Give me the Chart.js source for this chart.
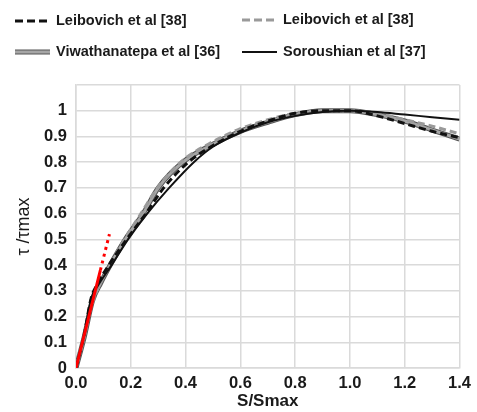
<!DOCTYPE html>
<html>
<head>
<meta charset="utf-8">
<script src="https://cdn.jsdelivr.net/npm/chart.js@4.4.1/dist/chart.umd.min.js"></script>
<style>
  html, body { margin: 0; padding: 0; background: #fff; }
  #wrap { width: 477px; height: 412px; }
</style>
</head>
<body>
<div id="wrap"><canvas id="stressSlip"></canvas></div>
<script>
// normalised slip (S/Smax) and bond stress (tau/tau_max) for each model
const leibovichBlackX = [0, 0.03, 0.055, 0.08, 0.12, 0.185, 0.255, 0.32, 0.41, 0.5, 0.6, 0.7, 0.8, 0.9, 1.0, 1.1, 1.2, 1.3, 1.4];
const leibovichBlackY = [0, 0.13, 0.27, 0.33, 0.40, 0.50, 0.60, 0.70, 0.80, 0.865, 0.92, 0.96, 0.99, 1.0, 1.0, 0.98, 0.95, 0.92, 0.895];

const leibovichGrayX = [0, 0.02, 0.05, 0.08, 0.123, 0.177, 0.237, 0.297, 0.382, 0.5, 0.6, 0.7, 0.8, 0.9, 1.0, 1.1, 1.2, 1.3, 1.4];
const leibovichGrayY = [0, 0.09, 0.22, 0.31, 0.40, 0.50, 0.60, 0.70, 0.80, 0.88, 0.93, 0.965, 0.99, 1.0, 1.0, 0.99, 0.965, 0.94, 0.91];

const viwathanatepaX = [0, 0.03, 0.06, 0.09, 0.125, 0.18, 0.245, 0.30, 0.39, 0.5, 0.6, 0.7, 0.8, 0.9, 1.0, 1.1, 1.2, 1.3, 1.4];
const viwathanatepaY = [0, 0.12, 0.26, 0.33, 0.40, 0.50, 0.60, 0.70, 0.80, 0.87, 0.92, 0.955, 0.985, 1.0, 1.0, 0.985, 0.96, 0.925, 0.89];

const soroushianX = [0, 0.03, 0.055, 0.08, 0.13, 0.19, 0.26, 0.34, 0.43, 0.5, 0.6, 0.7, 0.8, 0.9, 1.0, 1.1, 1.2, 1.3, 1.4];
const soroushianY = [0, 0.13, 0.27, 0.32, 0.40, 0.50, 0.60, 0.70, 0.80, 0.86, 0.915, 0.955, 0.98, 0.995, 1.0, 0.995, 0.985, 0.975, 0.965];

// initial stiffness line: solid part, then dotted extension
const stiffnessX = [0, 0.089];
const stiffnessY = [0, 0.38];
const stiffnessExtX = [0.089, 0.122];
const stiffnessExtY = [0.38, 0.52];

const xTicks = [0, 0.2, 0.4, 0.6, 0.8, 1.0, 1.2, 1.4];
const yMax = 1.1;

const legendNames = ['Leibovich et al [38]', 'Leibovich et al [38]', 'Viwathanatepa et al [36]', 'Soroushian et al [37]'];

function toPoints(xs, ys) {
    return xs.map((x, i) => ({ x: x, y: ys[i] }));
}

const FONT = '"Liberation Sans", Arial, sans-serif';

const lineDefaults = {
    showLine: true,
    pointRadius: 0,
    fill: false,
    cubicInterpolationMode: 'monotone'
};

const datasets = [
    Object.assign({}, lineDefaults, {
        label: 'stiffness',
        data: toPoints(stiffnessX, stiffnessY),
        borderColor: '#ff0000', borderWidth: 3, order: 0
    }),
    Object.assign({}, lineDefaults, {
        label: 'stiffness ext',
        data: toPoints(stiffnessExtX, stiffnessExtY),
        borderColor: '#ff0000', borderWidth: 3, borderDash: [3, 4], order: 0
    }),
    Object.assign({}, lineDefaults, {
        label: legendNames[3],
        data: toPoints(soroushianX, soroushianY),
        borderColor: '#111', borderWidth: 2, order: 1
    }),
    Object.assign({}, lineDefaults, {
        label: legendNames[0],
        data: toPoints(leibovichBlackX, leibovichBlackY),
        borderColor: '#111', borderWidth: 3, borderDash: [7, 4], order: 2
    }),
    Object.assign({}, lineDefaults, {
        label: legendNames[1],
        data: toPoints(leibovichGrayX, leibovichGrayY),
        borderColor: '#9a9a9a', borderWidth: 3, borderDash: [7, 4], order: 3
    }),
    Object.assign({}, lineDefaults, {
        label: legendNames[2],
        data: toPoints(viwathanatepaX, viwathanatepaY),
        borderColor: '#a6a6a6', borderWidth: 3, order: 4
    }),
    // dark edge under the grey Viwathanatepa line
    Object.assign({}, lineDefaults, {
        label: 'edge',
        data: toPoints(viwathanatepaX, viwathanatepaY),
        borderColor: '#555', borderWidth: 5, order: 5
    })
];

// two-column legend drawn above the plot
const legendItems = [
    { text: legendNames[0], x: 15, y: 21, color: '#111', width: 3, dash: [8, 4] },
    { text: legendNames[1], x: 242, y: 20, color: '#9a9a9a', width: 3, dash: [8, 4] },
    { text: legendNames[2], x: 15, y: 52, color: '#a6a6a6', width: 3, dash: [], edge: '#555' },
    { text: legendNames[3], x: 242, y: 52, color: '#111', width: 2, dash: [] }
];

const legendPlugin = {
    id: 'gridLegend',
    afterDraw(chart) {
        const ctx = chart.ctx;
        ctx.save();
        legendItems.forEach(item => {
            if (item.edge) {
                ctx.beginPath();
                ctx.setLineDash([]);
                ctx.strokeStyle = item.edge;
                ctx.lineWidth = item.width + 2;
                ctx.moveTo(item.x, item.y);
                ctx.lineTo(item.x + 35, item.y);
                ctx.stroke();
            }
            ctx.beginPath();
            ctx.setLineDash(item.dash);
            ctx.strokeStyle = item.color;
            ctx.lineWidth = item.width;
            ctx.moveTo(item.x, item.y);
            ctx.lineTo(item.x + 35, item.y);
            ctx.stroke();
            ctx.setLineDash([]);
            ctx.fillStyle = '#1a1a1a';
            ctx.font = 'bold 14.5px ' + FONT;
            ctx.textBaseline = 'middle';
            ctx.textAlign = 'left';
            ctx.fillText(item.text, item.x + 41, item.y);
        });
        ctx.restore();
    }
};

const gridColor = '#dadada';

new Chart(document.getElementById('stressSlip'), {
    type: 'scatter',
    data: { datasets: datasets },
    plugins: [legendPlugin],
    options: {
        responsive: true,
        maintainAspectRatio: false,
        animation: false,
        layout: { padding: { top: 85, right: 12, left: 0, bottom: 0 } },
        plugins: {
            legend: { display: false },
            tooltip: { enabled: false }
        },
        scales: {
            x: {
                type: 'linear',
                min: 0,
                max: 1.4,
                afterBuildTicks: scale => { scale.ticks = xTicks.map(v => ({ value: v })); },
                afterFit: scale => { scale.height = 44; },
                grid: { color: gridColor, lineWidth: 1.5, drawTicks: false },
                border: { color: gridColor, width: 1.5 },
                ticks: {
                    padding: 6,
                    color: '#1a1a1a',
                    font: { family: FONT, size: 16.5, weight: 'bold' },
                    callback: v => v.toFixed(1)
                },
                title: {
                    display: true,
                    text: 'S/Smax',
                    color: '#1a1a1a',
                    padding: { top: 2, bottom: 0 },
                    font: { family: FONT, size: 17, weight: 'bold' }
                }
            },
            y: {
                min: 0,
                max: yMax,
                afterFit: scale => { scale.width = 76; },
                grid: { color: gridColor, lineWidth: 1.5, drawTicks: false },
                border: { color: gridColor, width: 1.5 },
                ticks: {
                    stepSize: 0.1,
                    padding: 9,
                    color: '#1a1a1a',
                    font: { family: FONT, size: 16.5, weight: 'bold' },
                    callback: v => (v > 1.05 ? '' : String(Number(v.toFixed(1))))
                },
                title: {
                    display: true,
                    text: 'τ /τmax',
                    color: '#1a1a1a',
                    padding: { top: 13, bottom: 0 },
                    font: { family: FONT, size: 18 }
                }
            }
        }
    }
});
</script>
</body>
</html>
